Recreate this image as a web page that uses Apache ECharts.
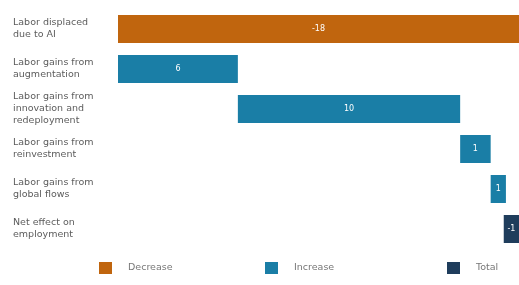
<!DOCTYPE html>
<html>
<head>
<meta charset="utf-8">
<script src="https://cdn.jsdelivr.net/npm/echarts@6/dist/echarts.min.js"></script>
<style>
  html, body { margin: 0; padding: 0; background: #fff; }
  #main { width: 519px; height: 285px; }
</style>
</head>
<body>
<div id="main"></div>
<script>
// categories top to bottom
const categories = [
  "Labor displaced\ndue to AI",
  "Labor gains from\naugmentation",
  "Labor gains from\ninnovation and\nredeployment",
  "Labor gains from\nreinvestment",
  "Labor gains from\nglobal flows",
  "Net effect on\nemployment"
];
// step values (last one is the total)
const steps = [-18.4, 5.5, 10.2, 1.4, 0.7];
const netValue = -0.7;
const labels = ["-18", "6", "10", "1", "1", "-1"];

// build the waterfall table: transparent base + visible part
let baseData = [];
let decData = [];
let incData = [];
let totData = [];
let running = 0;
steps.forEach((v, i) => {
  if (v < 0) {
    baseData.push(running);
    decData.push(v);
    incData.push("-");
    running += v;
  } else {
    // both ends negative: stack base at the upper end, then push down by v
    baseData.push(running + v);
    incData.push(-v);
    decData.push("-");
    running += v;
  }
  totData.push("-");
});
baseData.push(0);
decData.push("-");
incData.push("-");
totData.push(netValue);

const labelOpt = {
  show: true,
  position: "inside",
  color: "#fff",
  fontSize: 8,
  fontFamily: "DejaVu Sans",
  formatter: (p) => labels[p.dataIndex],
};

const legendBase = {
  bottom: 11,
  padding: 0,
  icon: "rect",
  itemWidth: 13,
  itemHeight: 12,
  textStyle: { color: "#777", fontSize: 9.5, fontFamily: "DejaVu Sans", padding: [0, 0, 0, 11] },
};

let myChart = echarts.init(document.getElementById("main"));
myChart.setOption({
  animation: false,
  grid: { left: 118, right: -3, top: 9, bottom: 36 },
  legend: [
    Object.assign({ data: ["Decrease"], left: 99 }, legendBase),
    Object.assign({ data: ["Increase"], left: 265 }, legendBase),
    Object.assign({ data: ["Total"], left: 447 }, legendBase),
  ],
  xAxis: {
    type: "value",
    min: -18.4,
    max: 0,
    show: false,
  },
  yAxis: {
    type: "category",
    inverse: true,
    data: categories,
    axisLine: { show: false },
    axisTick: { show: false },
    axisLabel: {
      align: "left",
      margin: 105,
      color: "#5c5c5c",
      fontSize: 9.5,
      lineHeight: 12,
      fontFamily: "DejaVu Sans",
    },
  },
  series: [
    {
      name: "base",
      type: "bar",
      stack: "wf",
      barCategoryGap: "30%",
      itemStyle: { color: "transparent" },
      data: baseData,
      silent: true,
    },
    {
      name: "Decrease",
      type: "bar",
      stack: "wf",
      itemStyle: { color: "#C0650E" },
      label: labelOpt,
      data: decData,
    },
    {
      name: "Increase",
      type: "bar",
      stack: "wf",
      itemStyle: { color: "#1A7EA6" },
      label: labelOpt,
      data: incData,
    },
    {
      name: "Total",
      type: "bar",
      stack: "wf",
      itemStyle: { color: "#1F3D5C" },
      label: labelOpt,
      data: totData,
    },
  ],
});
</script>
</body>
</html>
